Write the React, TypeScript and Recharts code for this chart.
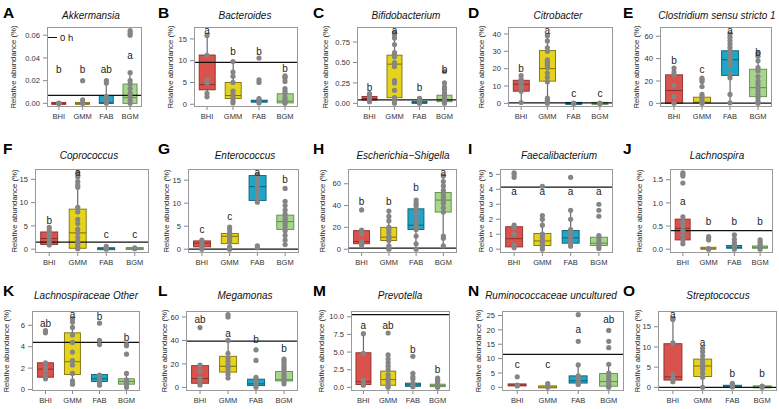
import React from "react";
import { ComposedChart, Bar, Scatter, XAxis, YAxis, ReferenceLine } from "recharts";

const groups = ["BHI", "GMM", "FAB", "BGM"];
const fills = ["#D9534C", "#E5D31C", "#1CA6C9", "#A7D68A"];
const strokes = ["#8A2F2A", "#7D700C", "#0E5E72", "#5E8A4A"];
const FONT = "'Liberation Sans', Arial, sans-serif";

// box stats per group: [lo, q1, median, q3, hi]
const akkBox = [[0, 0, 0, 0, 0], [0, 0, 0, 0, 0.003], [0, 0, 0.0005, 0.007, 0.02], [0, 0, 0.005, 0.017, 0.027]];
const akkPts = [[0, 0, 0, 0], [0, 0, 0.003, 0.02], [0, 0.003, 0.006, 0.018, 0.02], [0, 0.003, 0.006, 0.009, 0.013, 0.017, 0.02, 0.027, 0.06, 0.062, 0.064]];
const akkSig = ["b", "b", "ab", "a"];
const akkSigY = [0.03, 0.03, 0.03, 0.042];

const bacBox = [[1.7, 3.3, 4.5, 11.3, 15.8], [0.3, 1.3, 2.0, 5.0, 9.8], [0.3, 0.5, 0.7, 0.9, 1.3], [0, 0.3, 0.7, 2.4, 3.6]];
const bacPts = [[1.7, 2.5, 4.9, 5.6, 11.2, 15.8], [0.3, 0.8, 1.5, 2.2, 3.0, 5.0, 6.4, 7.4, 9.8], [0.3, 0.5, 1.0, 1.3, 5.0, 5.6, 10.6], [0.2, 0.5, 1.0, 1.5, 2.4, 3.0, 3.6, 5.2, 6.0, 6.3, 6.5]];
const bacSig = ["a", "b", "b", "b"];
const bacSigY = [16.9, 12, 12, 8.2];

const bifBox = [[0.02, 0.04, 0.06, 0.085, 0.12], [0, 0.07, 0.48, 0.59, 0.87], [0, 0.005, 0.01, 0.02, 0.06], [0, 0.02, 0.04, 0.1, 0.2]];
const bifPts = [[0.02, 0.05, 0.07, 0.09, 0.11, 0.12], [0, 0.02, 0.07, 0.16, 0.25, 0.28, 0.45, 0.5, 0.57, 0.6, 0.62, 0.72, 0.8, 0.84, 0.87], [0, 0.01, 0.03, 0.05, 0.06], [0, 0.02, 0.04, 0.06, 0.1, 0.13, 0.17, 0.2, 0.25, 0.39]];
const bifSig = ["b", "a", "b", "b"];
const bifSigY = [0.2, 0.89, 0.2, 0.41];

const citBox = [[0.5, 7, 11, 13.3, 16], [0, 12.8, 20, 30.5, 39], [0, 0, 0, 0, 0], [0, 0, 0, 0, 0]];
const citPts = [[0.5, 7, 9, 11, 12, 13, 14, 16], [0, 1, 2, 3, 12.5, 15, 17.5, 20.5, 22, 23, 24, 25, 30, 32, 36, 39], [0, 0, 0], [0, 0, 0]];
const citSig = ["b", "a", "c", "c"];
const citSigY = [20, 41.9, 5.5, 5.5];

const cloBox = [[0, 0, 11.5, 25.5, 31.5], [0, 0.5, 1, 5.5, 8], [0.5, 25, 39, 47, 62], [0, 6, 14, 30.5, 45]];
const cloPts = [[0, 6, 16, 25.5, 28, 31.5], [0, 0.5, 1, 2, 4.5, 6, 8, 15, 19.5, 21, 22.5], [0.5, 8, 23, 27, 34, 36, 39, 41, 44, 47, 50, 53, 56, 59, 62], [0, 2, 5, 8, 11, 14, 17, 20, 24, 29, 32, 38, 42, 45]];
const cloSig = ["b", "c", "a", "b"];
const cloSigY = [38.6, 30.3, 65, 45.2];

const copBox = [[0.9, 1.0, 2.3, 3.7, 4.7], [0, 0.2, 3.5, 8.6, 16.4], [0, 0, 0.1, 0.2, 0.6], [0, 0.05, 0.1, 0.2, 0.3]];
const copPts = [[0.9, 1.4, 2.0, 2.9, 3.4, 4.0, 4.7], [0.1, 0.5, 1, 1.7, 2.5, 3.5, 4.3, 5.5, 6.4, 8.0, 9.0, 13.3, 13.8, 14.5, 15.5, 16.4], [0, 0.2, 0.6], [0.1, 0.3]];
const copSig = ["b", "a", "c", "c"];
const copSigY = [6.2, 16.4, 3.2, 3.2];

const entBox = [[0, 0.5, 1.3, 1.8, 2.1], [0, 1.2, 2.8, 3.4, 4.8], [10.2, 10.6, 13.6, 16, 16.2], [1, 4.3, 6, 7.4, 10.4]];
const entPts = [[0, 0.5, 1.2, 1.7, 2.0], [0, 0.5, 1.5, 2, 2.6, 3.0, 3.5, 4.2, 4.8], [0.3, 0.7, 10.2, 11, 12, 13, 13.8, 14.5, 15.3, 16.2], [1, 2, 3, 4, 4.8, 5.5, 6, 6.5, 7, 7.6, 8.5, 9.5, 10.4, 13.2]];
const entSig = ["c", "c", "a", "b"];
const entSigY = [4.3, 7, 16.6, 15.2];

const escBox = [[3.5, 5, 7, 17, 17.5], [0, 8, 11, 20, 35], [0, 18, 22, 37, 45], [3, 34, 45, 52, 67]];
const escPts = [[3.5, 5, 7, 14, 17.5, 36], [0, 3, 8, 10, 12, 15, 18, 20, 26, 30, 35], [0, 5, 12, 18, 20, 22, 25, 28, 33, 37, 40, 42, 45], [3, 10, 12, 34, 38, 42, 45, 48, 51, 54, 58, 62, 67]];
const escSig = ["b", "b", "b", "a"];
const escSigY = [44, 44, 57, 70];

const faeBox = [[0.05, 0.15, 0.7, 1.5, 1.6], [0, 0.25, 0.55, 1.05, 2.25], [0.2, 0.4, 0.75, 1.25, 2.6], [0.05, 0.25, 0.4, 0.8, 0.9]];
const faePts = [[0.1, 0.3, 1.0, 1.45, 1.6, 4.8, 5.0, 5.1], [0, 0.2, 0.4, 0.6, 0.8, 1.0, 1.6, 2.0, 2.25, 4.2], [0.2, 0.4, 0.6, 0.8, 1.0, 1.3, 2.0, 2.6, 4.8], [0.05, 0.2, 0.35, 0.5, 0.7, 0.9, 2.2, 2.6, 3.0]];
const faeSig = ["a", "a", "a", "a"];
const faeSigY = [3.85, 3.85, 3.85, 3.85];

const lacBox = [[0.12, 0.2, 0.45, 0.65, 0.7], [0, 0.01, 0.02, 0.03, 0.03], [0, 0.02, 0.04, 0.08, 0.12], [0, 0.02, 0.04, 0.07, 0.1]];
const lacPts = [[0.12, 0.2, 0.3, 0.4, 0.5, 0.6, 0.7, 1.43, 1.58, 1.62, 1.65], [0, 0.01, 0.2, 0.24, 0.27], [0, 0.03, 0.06, 0.1, 0.15, 0.22, 0.31], [0, 0.05, 0.1, 0.15, 0.2]];
const lacSig = ["a", "b", "b", "b"];
const lacSigY = [1.03, 0.6, 0.6, 0.6];

const lchBox = [[1.0, 1.15, 1.9, 2.5, 2.55], [0.5, 1.4, 2.6, 5.3, 6.6], [0.4, 0.75, 1.0, 1.4, 1.45], [0.2, 0.5, 0.75, 1.0, 1.5]];
const lchPts = [[1.0, 1.3, 1.8, 2.1, 2.5, 5.3, 5.5], [0.5, 0.8, 1.5, 2.3, 2.7, 3.5, 4.4, 5.1, 5.8, 6.3, 6.6], [0.4, 0.6, 0.9, 1.1, 1.35, 4.2, 4.6, 6.2], [0.2, 0.5, 0.7, 0.9, 1.5, 3.3, 4.1, 4.2]];
const lchSig = ["ab", "a", "b", "b"];
const lchSigY = [6.2, 7, 6.8, 4.9];

const megBox = [[2, 3.5, 7.5, 18.5, 19], [8, 13, 18, 26.5, 40], [0, 1.5, 3, 7, 8.5], [3, 5.5, 6.5, 13.5, 24]];
const megPts = [[2, 5, 8, 14, 19, 51], [8, 11, 14, 17, 19, 22, 25, 29, 40, 60, 62], [0, 2, 4, 7, 8.5, 23, 32], [3, 5, 7, 9, 11, 14, 16, 18, 20, 22, 24]];
const megSig = ["ab", "a", "b", "b"];
const megSigY = [58, 46, 41, 33];

const prvBox = [[0.3, 0.4, 0.8, 4.9, 7.6], [0, 0.3, 1.1, 2.3, 4.6], [0.1, 0.15, 0.35, 0.6, 1.2], [0, 0.1, 0.25, 0.45, 1.0]];
const prvPts = [[0.3, 0.5, 1.0, 4.8, 7.6], [0, 0.2, 0.5, 0.9, 1.3, 1.8, 2.5, 3.0, 3.5, 4.0, 4.6, 7.7], [0.1, 0.3, 0.6, 1.2, 1.5, 2.0, 4.4], [0, 0.2, 0.5, 0.8, 1.0, 1.3]];
const prvSig = ["a", "ab", "b", "b"];
const prvSigY = [8.7, 8.8, 5.4, 2.5];

const rumBox = [[0.5, 0.5, 0.8, 1.2, 1.2], [0, 0.05, 0.1, 0.3, 0.3], [1, 1.5, 2.3, 4, 7.8], [0, 0.4, 2, 4.8, 8]];
const rumPts = [[0.5, 0.8, 3.7], [0, 0.3, 1.3], [1, 1.5, 2, 2.5, 3, 4, 7.8, 16, 25.3], [0, 0.5, 1, 2, 3, 4, 5, 8, 13.8, 16, 19.8]];
const rumSig = ["c", "c", "a", "ab"];
const rumSigY = [8, 8, 20, 23.5];

const strBox = [[1.4, 1.8, 2.6, 10.8, 17], [0, 2.7, 5.3, 7, 9.7], [0.1, 0.15, 0.3, 0.4, 0.5], [0, 0.05, 0.1, 0.2, 0.3]];
const strPts = [[1.4, 2.2, 3.2, 11, 16.8, 17], [0, 2.5, 3.5, 4.5, 5.2, 6, 6.8, 7.8, 8.8, 9.7], [0.1, 0.5, 1.0], [0, 0.3]];
const strSig = ["a", "a", "b", "b"];
const strSigY = [18, 11, 3.5, 3.5];

// layout (pixels)
const colStart = [0, 155, 310, 465, 620];
const rowFrame = [[27, 107], [169, 253], [311, 391]];
const rowTitleY = [9.5, 150, 290];
const rowLetterY = [3.5, 140, 282];

const panels = [
  { id: "A", title: "Akkermansia", box: akkBox, pts: akkPts, sig: akkSig, sigY: akkSigY, h0: 0.007, ticks: [0, 0.02, 0.04, 0.06], dec: 2, fx: [47, 142], lx: 13, tx: 91 },
  { id: "B", title: "Bacteroides", box: bacBox, pts: bacPts, sig: bacSig, sigY: bacSigY, h0: 9.6, ticks: [0, 5, 10, 15], dec: 0, fx: [194, 298], lx: 170, tx: 245 },
  { id: "C", title: "Bifidobacterium", box: bifBox, pts: bifPts, sig: bifSig, sigY: bifSigY, h0: 0.042, ticks: [0, 0.25, 0.5, 0.75], dec: 2, fx: [357, 457], lx: 325, tx: 406 },
  { id: "D", title: "Citrobacter", box: citBox, pts: citPts, sig: citSig, sigY: citSigY, h0: 0.3, ticks: [0, 10, 20, 30, 40], dec: 0, fx: [508, 613], lx: 481, tx: 558 },
  { id: "E", title: "Clostridium sensu stricto 1", box: cloBox, pts: cloPts, sig: cloSig, sigY: cloSigY, h0: 0.3, ticks: [0, 20, 40, 60], dec: 0, fx: [660, 772], lx: 636, tx: 717 },
  { id: "F", title: "Coprococcus", box: copBox, pts: copPts, sig: copSig, sigY: copSigY, h0: 1.5, ticks: [0, 5, 10, 15], dec: 0, fx: [35, 149], lx: 14, tx: 89 },
  { id: "G", title: "Enterococcus", box: entBox, pts: entPts, sig: entSig, sigY: entSigY, h0: 0, ticks: [0, 5, 10, 15], dec: 0, fx: [188, 299], lx: 166, tx: 245 },
  { id: "H", title: "Escherichia\u2212Shigella", box: escBox, pts: escPts, sig: escSig, sigY: escSigY, h0: 1, ticks: [0, 20, 40, 60], dec: 0, fx: [348, 457], lx: 322, tx: 403 },
  { id: "I", title: "Faecalibacterium", box: faeBox, pts: faePts, sig: faeSig, sigY: faeSigY, h0: 4.15, ticks: [0, 1, 2, 3, 4, 5], dec: 0, fx: [500, 613], lx: 481, tx: 559 },
  { id: "J", title: "Lachnospira", box: lacBox, pts: lacPts, sig: lacSig, sigY: lacSigY, h0: 0.4, ticks: [0, 0.5, 1, 1.5], dec: 1, fx: [670, 773], lx: 639, tx: 717 },
  { id: "K", title: "Lachnospiraceae Other", box: lchBox, pts: lchPts, sig: lchSig, sigY: lchSigY, h0: 4.4, ticks: [0, 2, 4, 6], dec: 0, fx: [32, 140], lx: 6, tx: 86 },
  { id: "L", title: "Megamonas", box: megBox, pts: megPts, sig: megSig, sigY: megSigY, h0: 39.5, ticks: [0, 20, 40, 60], dec: 0, fx: [186, 298], lx: 164, tx: 245 },
  { id: "M", title: "Prevotella", box: prvBox, pts: prvPts, sig: prvSig, sigY: prvSigY, h0: 10.3, ticks: [0, 2.5, 5, 7.5, 10], dec: 1, fx: [351, 450], lx: 321, tx: 400 },
  { id: "N", title: "Ruminococcaceae uncultured", box: rumBox, pts: rumPts, sig: rumSig, sigY: rumSigY, h0: 11.5, ticks: [0, 5, 10, 15, 20, 25], dec: 0, fx: [502, 624], lx: 478, tx: 551 },
  { id: "O", title: "Streptococcus", box: strBox, pts: strPts, sig: strSig, sigY: strSigY, h0: 0, ticks: [0, 5, 10, 15], dec: 0, fx: [658, 777], lx: 637, tx: 718 },
];

// ggplot-style limits: every drawn value (points, letters, 0 h line) plus 5% each side
const limits = (p: any) => {
  const vals = [...p.pts.flat(), ...p.sigY, p.h0];
  const lo = Math.min(...vals);
  const hi = Math.max(...vals);
  const pad = (hi - lo) * 0.05;
  return [lo - pad, hi + pad];
};

const BoxShape = (props: any) => {
  const { x, y, width, height, payload } = props;
  const { lo, q1, med, q3, hi, i } = payload;
  const t = Math.min(y, y + height);
  const b = Math.max(y, y + height);
  const px = (v: number) => (hi === lo ? b : b - ((v - lo) / (hi - lo)) * (b - t));
  const cx = x + width / 2;
  const top = px(q3);
  const bot = px(q1);
  const hb = Math.max(bot - top, 2);
  const mid = (top + bot) / 2;
  return (
    <g>
      <line x1={cx} x2={cx} y1={px(hi)} y2={px(lo)} stroke="#6a6a6a" strokeWidth={1.2} />
      <rect x={x} y={mid - hb / 2} width={width} height={hb} fill={fills[i]} stroke={strokes[i]} strokeWidth={0.9} />
      <line x1={x} x2={x + width} y1={px(med)} y2={px(med)} stroke={strokes[i]} strokeWidth={1} />
    </g>
  );
};

const Dot = (props: any) => <circle cx={props.cx} cy={props.cy} r={2.6} fill="#858585" />;

const SigText = (props: any) => (
  <text x={props.cx} y={props.cy} textAnchor="middle" dominantBaseline="central" fontSize={10} fill="#222" fontFamily={FONT}>
    {props.payload.t}
  </text>
);

function Panel({ p, idx }: { p: any; idx: number }) {
  const col = idx % 5;
  const row = Math.floor(idx / 5);
  const cx0 = colStart[col];
  const [fy0, fy1] = rowFrame[row];
  const data = groups.map((g, i) => {
    const [lo, q1, med, q3, hi] = p.box[i];
    return { g, range: [lo, hi], lo, q1, med, q3, hi, i };
  });
  const pts = p.pts.flatMap((arr: number[], i: number) => arr.map((v) => ({ g: groups[i], v })));
  const sig = p.sig.map((t: string, i: number) => ({ g: groups[i], v: p.sigY[i], t }));
  const yw = p.fx[0] - cx0;
  const fw = p.fx[1] - p.fx[0];
  const fh = fy1 - fy0;
  const mt = 4;
  const w = p.fx[1] - cx0 + 2;
  const h = mt + fh + 18;
  return (
    <div style={{ position: "absolute", left: cx0, top: fy0 - mt, width: w, height: h }}>
      <ComposedChart width={w} height={h} data={data} margin={{ top: mt, right: 2, bottom: 0, left: 0 }} barCategoryGap="20%">
        <XAxis
          dataKey="g"
          allowDuplicatedCategory={false}
          height={18}
          axisLine={false}
          tickLine={{ stroke: "#888" }}
          tickSize={3}
          tickMargin={4}
          tick={{ fontSize: 7.5, fill: "#333", fontFamily: FONT }}
        />
        <YAxis
          type="number"
          domain={limits(p)}
          ticks={p.ticks}
          allowDataOverflow
          width={yw}
          axisLine={false}
          tickLine={{ stroke: "#888" }}
          tickSize={4}
          tickMargin={3}
          tickFormatter={(v: number) => v.toFixed(p.dec)}
          tick={{ fontSize: 7.6, fill: "#333", fontFamily: FONT }}
          label={{ value: "Relative abundance (%)", angle: -90, position: "insideLeft", offset: p.lx - cx0, style: { textAnchor: "middle", fontSize: 7.8, fill: "#222", fontFamily: FONT } }}
        />
        <Bar dataKey="range" shape={BoxShape} isAnimationActive={false} />
        <Scatter data={pts} dataKey="v" shape={Dot} isAnimationActive={false} />
        <ReferenceLine y={p.h0} stroke="#111" strokeWidth={1.2} />
        <Scatter data={sig} dataKey="v" shape={SigText} isAnimationActive={false} />
      </ComposedChart>
      <div
        style={{ position: "absolute", left: yw, top: mt, width: fw, height: fh, border: "1px solid #9a9a9a", boxSizing: "border-box", pointerEvents: "none" }}
      />
    </div>
  );
}

export default function App() {
  return (
    <div style={{ position: "absolute", left: 0, top: 0, width: 779, height: 409, background: "#fff", fontFamily: FONT, overflow: "hidden" }}>
      {panels.map((p, idx) => {
        const col = idx % 5;
        const row = Math.floor(idx / 5);
        return (
          <React.Fragment key={p.id}>
            <Panel p={p} idx={idx} />
            <div style={{ position: "absolute", left: colStart[col] + 3, top: rowLetterY[row], fontSize: 15.5, fontWeight: "bold", lineHeight: "17px", color: "#000" }}>
              {p.id}
            </div>
            <div
              style={{ position: "absolute", left: p.tx - 80, width: 160, top: rowTitleY[row], textAlign: "center", fontSize: 10, fontStyle: "italic", lineHeight: "12px", color: "#111", whiteSpace: "nowrap" }}
            >
              {p.title}
            </div>
          </React.Fragment>
        );
      })}
      <div style={{ position: "absolute", left: 48, top: 33, fontSize: 9.5, lineHeight: "9px", color: "#111", display: "flex", alignItems: "center" }}>
        <span style={{ display: "inline-block", width: 9, height: 1.3, background: "#111", marginRight: 3 }} />
        0 h
      </div>
    </div>
  );
}
